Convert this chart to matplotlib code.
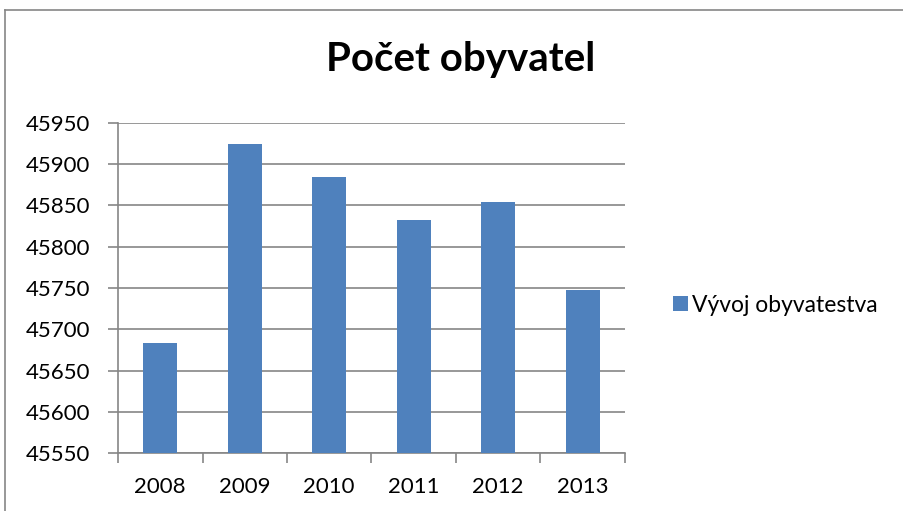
import matplotlib.pyplot as plt
from matplotlib.lines import Line2D

years = ['2008', '2009', '2010', '2011', '2012', '2013']
population = [45683, 45924, 45884, 45832, 45854, 45748]
y_ticks = [45550, 45600, 45650, 45700, 45750, 45800, 45850, 45900, 45950]

plt.rcParams['font.family'] = ['Lato', 'DejaVu Sans']

fig = plt.figure(figsize=(9.04, 5.11), dpi=100)
ax = fig.add_axes([118 / 904, 1 - 453.3 / 511, (625 - 118) / 904, (453.3 - 122.7) / 511])

grey = '#868686'
x = range(len(years))
ax.bar(x, population, width=0.4, color='#4F81BD', label='Vývoj obyvatestva', zorder=3)

ax.set_ylim(45550, 45950)
ax.set_yticks(y_ticks)
ax.set_yticklabels([str(v) for v in y_ticks], fontsize=16)
ax.set_xlim(-0.5, len(years) - 0.5)

# category labels at centres, tick marks between categories
ax.set_xticks([i - 0.5 for i in range(len(years) + 1)])
ax.set_xticklabels([])
ax.set_xticks(list(x), minor=True)
ax.set_xticklabels(years, minor=True, fontsize=16)
ax.tick_params(axis='x', which='major', length=7, color=grey, width=1.2, direction='out')
ax.tick_params(axis='x', which='minor', length=0, pad=17)
ax.tick_params(axis='y', length=7, color=grey, width=1.2, direction='out', pad=13)

ax.yaxis.grid(True, color=grey, linewidth=1.2, zorder=0)
ax.set_axisbelow(True)
for side in ['top', 'right']:
    ax.spines[side].set_visible(False)
for side in ['left', 'bottom']:
    ax.spines[side].set_color(grey)
    ax.spines[side].set_linewidth(1.2)

fig.text(461 / 904, 1 - 60 / 511, 'Počet obyvatel', fontsize=29, fontweight='bold',
         ha='center', va='center')

ax.legend(loc='center left', bbox_to_anchor=(652 / 904, 1 - 305 / 511),
          bbox_transform=fig.transFigure, frameon=False, fontsize=16.5,
          handlelength=0.65, handleheight=0.65, handletextpad=0.2)

# chart frame (cropped at the right and bottom)
fig.add_artist(Line2D([5 / 904, 5 / 904], [0, 1 - 10 / 511], color=grey, linewidth=1.2))
fig.add_artist(Line2D([5 / 904, 1], [1 - 10 / 511, 1 - 10 / 511], color=grey, linewidth=1.2))

fig.savefig('out.png', dpi=100)
